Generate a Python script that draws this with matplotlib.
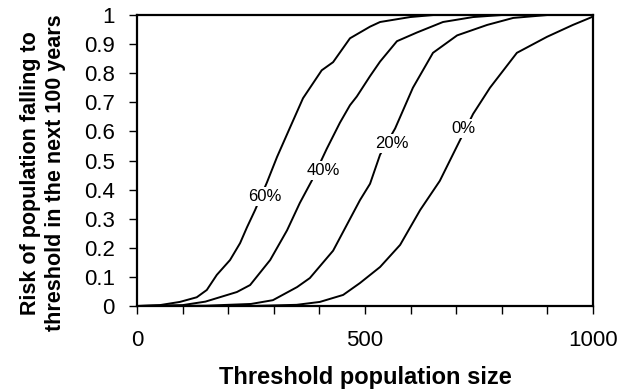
import numpy as np
import matplotlib
matplotlib.use('Agg')
import matplotlib.pyplot as plt

plt.rcParams['font.family'] = ['Liberation Sans', 'DejaVu Sans']

# curves (threshold population size, risk)
x60 = [0, 50, 94, 131, 153, 175, 204, 226, 241, 259, 285, 307, 336, 364, 405, 430, 467, 511, 533, 599, 650, 1000]
y60 = [0, 0.003, 0.014, 0.03, 0.055, 0.107, 0.158, 0.216, 0.27, 0.33, 0.425, 0.512, 0.615, 0.714, 0.81, 0.838, 0.92, 0.96, 0.976, 0.993, 1.0, 1.0]

x40 = [0, 100, 150, 219, 248, 292, 329, 357, 383, 416, 445, 467, 482, 511, 533, 570, 614, 671, 737, 800, 1000]
y40 = [0, 0.003, 0.015, 0.048, 0.072, 0.158, 0.26, 0.354, 0.43, 0.54, 0.63, 0.69, 0.72, 0.79, 0.84, 0.91, 0.94, 0.976, 0.993, 1.0, 1.0]

x20 = [0, 150, 250, 298, 351, 379, 430, 489, 511, 533, 566, 605, 649, 702, 768, 825, 900, 1000]
y20 = [0, 0.001, 0.007, 0.02, 0.065, 0.096, 0.19, 0.364, 0.42, 0.52, 0.61, 0.75, 0.87, 0.93, 0.966, 0.99, 1.0, 1.0]

x0 = [0, 250, 350, 401, 452, 489, 533, 577, 621, 664, 702, 737, 774, 833, 899, 956, 993, 1000]
y0 = [0, 0.0, 0.004, 0.014, 0.038, 0.079, 0.134, 0.21, 0.33, 0.43, 0.55, 0.66, 0.75, 0.87, 0.925, 0.966, 0.99, 0.995]

labels = ['60%', '40%', '20%', '0%']
label_x = [281, 408, 559, 715]
label_y = [0.375, 0.464, 0.56, 0.61]

fig = plt.figure(figsize=(6.3, 3.89), dpi=100)
ax = fig.add_axes([0.2175, 0.2134, 0.7238, 0.748])

for xs, ys in [(x60, y60), (x40, y40), (x20, y20), (x0, y0)]:
    ax.plot(xs, ys, color='black', lw=1.4)

for lab, lx, ly in zip(labels, label_x, label_y):
    ax.text(lx, ly, lab, fontsize=12, ha='center', va='center', zorder=5,
            bbox=dict(facecolor='white', edgecolor='none', pad=1.5))

ax.set_xlim(0, 1000)
ax.set_ylim(0, 1)
ax.set_xticks([0, 500, 1000])
ax.set_xticks(np.arange(0, 1001, 100), minor=True)
ax.set_yticks(np.arange(0, 1.01, 0.1))
ax.set_yticklabels(['0', '0.1', '0.2', '0.3', '0.4', '0.5', '0.6', '0.7', '0.8', '0.9', '1'])
ax.tick_params(axis='both', which='both', direction='out', length=6, width=1, labelsize=16)
ax.tick_params(axis='x', which='major', pad=11)
ax.tick_params(axis='y', pad=10)
for s in ax.spines.values():
    s.set_linewidth(1.6)

ax.set_xlabel('Threshold population size', fontsize=17, fontweight='bold', labelpad=11)
ax.set_ylabel('Risk of population falling to\nthreshold in the next 100 years', fontsize=15.5,
              fontweight='bold', linespacing=1.25)
ax.yaxis.set_label_coords(-0.155, 0.457)

fig.savefig('out.png', dpi=100)
